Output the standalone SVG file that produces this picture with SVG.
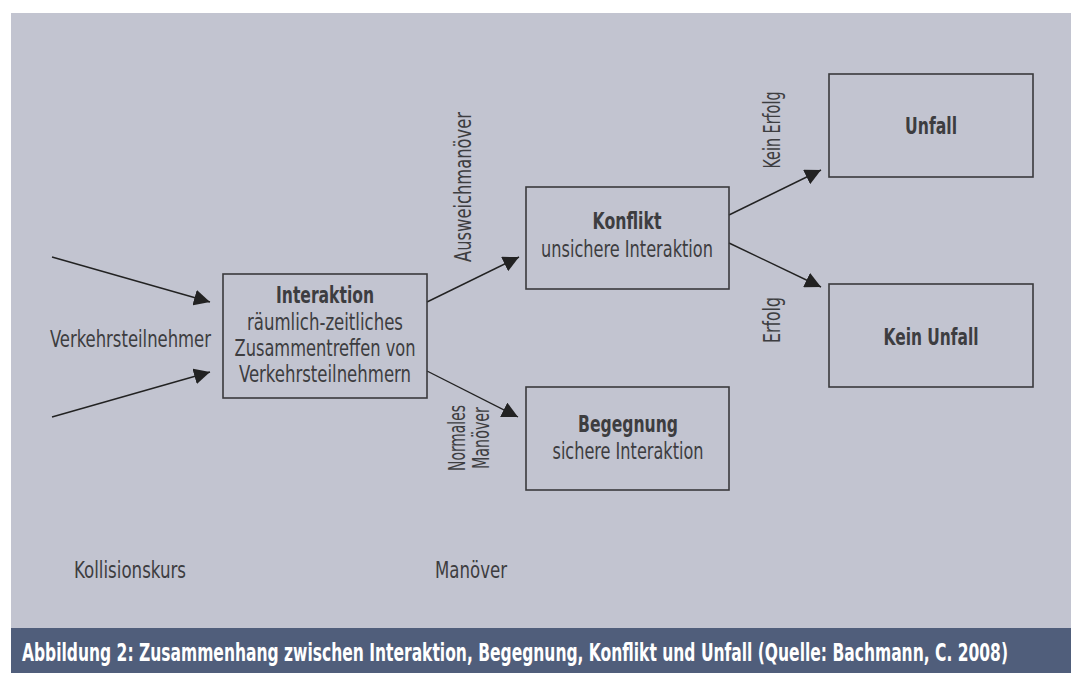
<svg xmlns="http://www.w3.org/2000/svg" width="1071" height="673" viewBox="0 0 1071 673">
<style>
text{font-family:"Liberation Sans Narrow","DejaVu Sans Condensed","Liberation Sans",sans-serif;fill:#3d3d40;font-size:23px}
.b{font-weight:bold}
.m{text-anchor:middle}
.box{fill:none;stroke:#3a3a3c;stroke-width:1.6}
.con{stroke:#222;stroke-width:1.4;fill:none;marker-end:url(#ah)}
.cap{fill:#ffffff;font-weight:bold;font-size:18px}
</style>
<defs>
<marker id="ah" viewBox="0 0 10 10" refX="10" refY="5" markerWidth="16" markerHeight="16" markerUnits="userSpaceOnUse" orient="auto">
<path d="M0,0 L10,5 L0,10 z" fill="#222"/>
</marker>
</defs>
<rect x="0" y="0" width="1071" height="673" fill="#ffffff"/>
<rect x="11" y="13" width="1060" height="615" fill="#c2c4d0"/>
<rect x="11" y="628" width="1060" height="45" fill="#505e7b"/>
<text class="cap" transform="translate(22,661) scale(1,1.33)" x="0" y="0" textLength="986" lengthAdjust="spacingAndGlyphs">Abbildung 2: Zusammenhang zwischen Interaktion, Begegnung, Konflikt und Unfall (Quelle: Bachmann, C. 2008)</text>

<g id="connectors">
<line class="con" x1="52" y1="257" x2="210" y2="302"/>
<line class="con" x1="52" y1="417" x2="210" y2="372"/>
<line class="con" x1="427" y1="302" x2="519" y2="257"/>
<line class="con" x1="427" y1="371" x2="518" y2="417"/>
<line class="con" x1="729" y1="215" x2="821" y2="170"/>
<line class="con" x1="729" y1="243" x2="821" y2="287"/>
</g>

<g id="interaktion">
<rect class="box" x="223" y="274" width="204" height="124"/>
<text class="b m" x="325" y="303" textLength="98" lengthAdjust="spacingAndGlyphs">Interaktion</text>
<text class="m" x="325" y="330" textLength="156" lengthAdjust="spacingAndGlyphs">räumlich-zeitliches</text>
<text class="m" x="325" y="356" textLength="181" lengthAdjust="spacingAndGlyphs">Zusammentreffen von</text>
<text class="m" x="325" y="382" textLength="172" lengthAdjust="spacingAndGlyphs">Verkehrsteilnehmern</text>
</g>

<g id="konflikt">
<rect class="box" x="526" y="187" width="203" height="102"/>
<text class="b m" x="627" y="229" textLength="69" lengthAdjust="spacingAndGlyphs">Konflikt</text>
<text class="m" x="627" y="257" textLength="172" lengthAdjust="spacingAndGlyphs">unsichere Interaktion</text>
</g>

<g id="begegnung">
<rect class="box" x="526" y="387" width="203" height="103"/>
<text class="b m" x="628" y="432" textLength="100" lengthAdjust="spacingAndGlyphs">Begegnung</text>
<text class="m" x="628" y="459" textLength="151" lengthAdjust="spacingAndGlyphs">sichere Interaktion</text>
</g>

<g id="unfall">
<rect class="box" x="829" y="74" width="204" height="103"/>
<text class="b m" x="931" y="134" textLength="52" lengthAdjust="spacingAndGlyphs">Unfall</text>
</g>

<g id="kein-unfall">
<rect class="box" x="829" y="284" width="204" height="103"/>
<text class="b m" x="931" y="345" textLength="95" lengthAdjust="spacingAndGlyphs">Kein Unfall</text>
</g>

<g id="labels">
<text x="50" y="347" textLength="161" lengthAdjust="spacingAndGlyphs">Verkehrsteilnehmer</text>
<text x="74" y="578" textLength="112" lengthAdjust="spacingAndGlyphs">Kollisionskurs</text>
<text x="435" y="578" textLength="72" lengthAdjust="spacingAndGlyphs">Manöver</text>
<text class="m" transform="translate(471,187) rotate(-90)" textLength="150" lengthAdjust="spacingAndGlyphs">Ausweichmanöver</text>
<text class="m" transform="translate(465,438) rotate(-90)" textLength="66" lengthAdjust="spacingAndGlyphs">Normales</text>
<text class="m" transform="translate(489,438) rotate(-90)" textLength="62" lengthAdjust="spacingAndGlyphs">Manöver</text>
<text class="m" transform="translate(780,130) rotate(-90)" textLength="77" lengthAdjust="spacingAndGlyphs">Kein Erfolg</text>
<text class="m" transform="translate(780,320) rotate(-90)" textLength="46" lengthAdjust="spacingAndGlyphs">Erfolg</text>
</g>
</svg>
